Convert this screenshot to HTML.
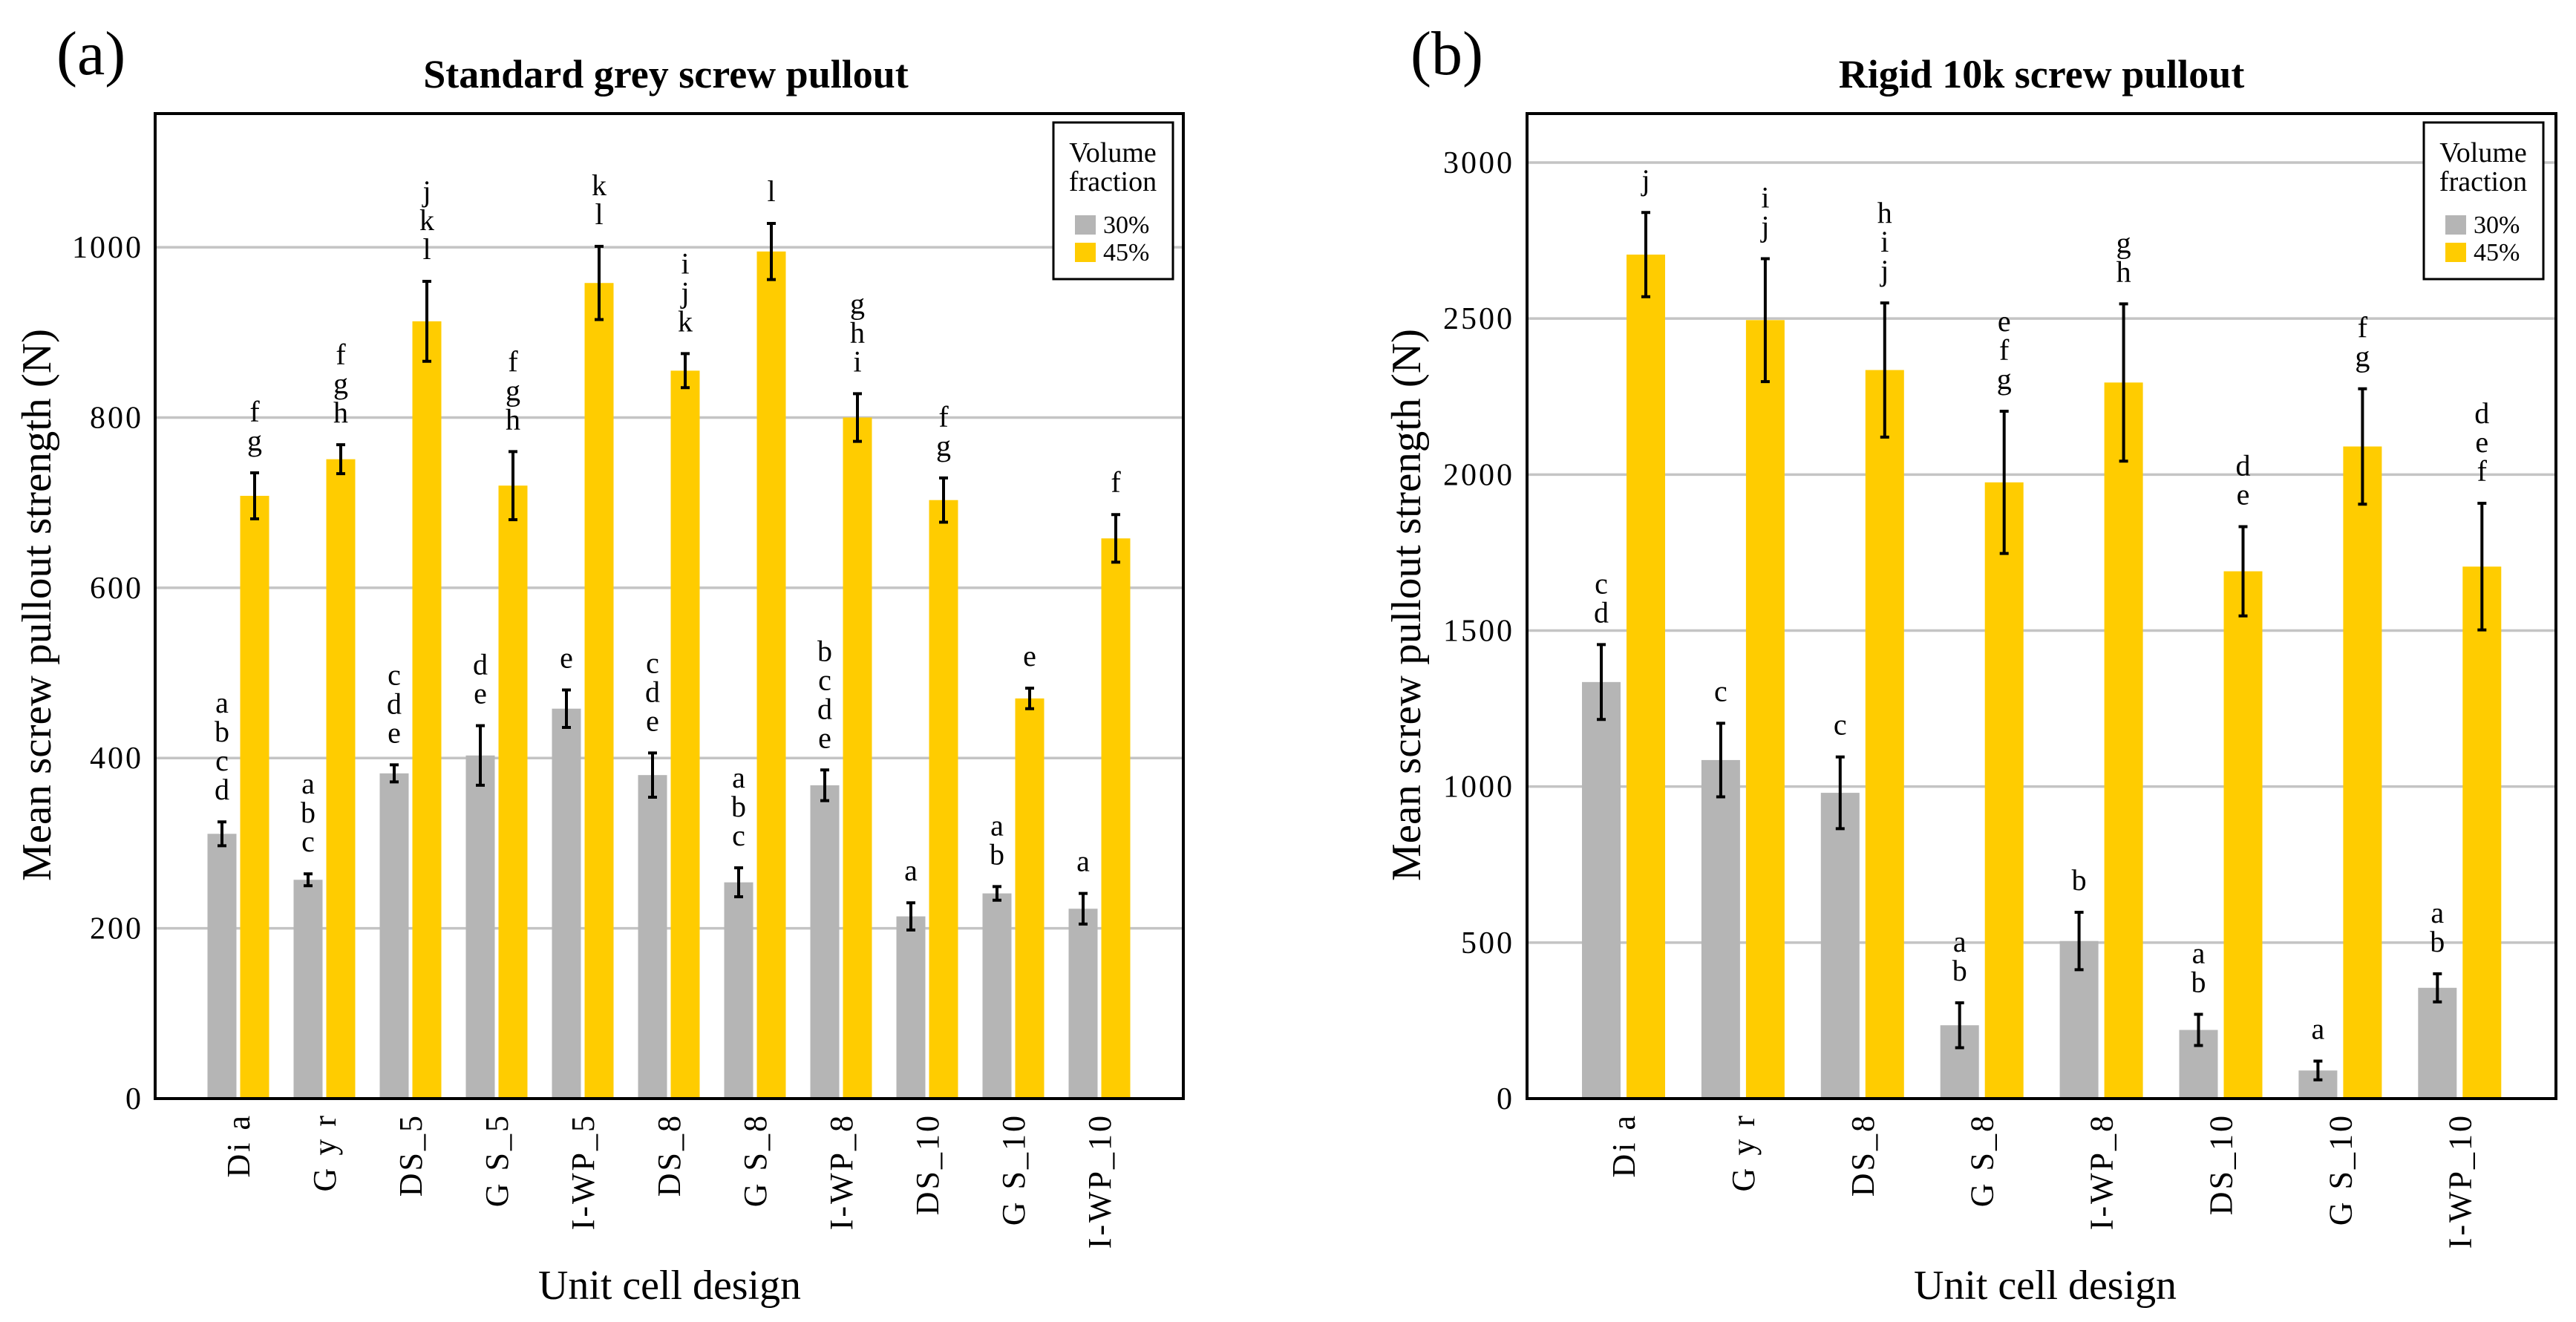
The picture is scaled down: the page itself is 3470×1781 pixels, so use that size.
<!DOCTYPE html>
<html><head><meta charset="utf-8"><style>
html,body{margin:0;padding:0;background:#fff;}
svg{display:block;font-family:"Liberation Serif",serif;}
</style></head><body>
<svg id="fig" width="3470" height="1781" viewBox="0 0 3470 1781" xmlns="http://www.w3.org/2000/svg"></svg>
<script>
// Panel (a) data
const catsA = ["Di a","G y r","DS_5","G S_5","I-WP_5","DS_8","G S_8","I-WP_8","DS_10","G S_10","I-WP_10"];
const a30 = [311,257,382,403,458,380,254,368,214,241,223];
const a30err = [14,7,10,35,22,26,17,18,16,8,18];
const a45 = [708,751,913,720,958,855,995,800,703,470,658];
const a45err = [27,17,47,40,43,20,33,28,26,12,28];
const a30let = [["a","b","c","d"],["a","b","c"],["c","d","e"],["d","e"],["e"],["c","d","e"],["a","b","c"],["b","c","d","e"],["a"],["a","b"],["a"]];
const a45let = [["f","g"],["f","g","h"],["j","k","l"],["f","g","h"],["k","l"],["i","j","k"],["l"],["g","h","i"],["f","g"],["e"],["f"]];
const ticksA = [0,200,400,600,800,1000];
// Panel (b) data
const catsB = ["Di a","G y r","DS_8","G S_8","I-WP_8","DS_10","G S_10","I-WP_10"];
const b30 = [1335,1085,980,235,505,220,90,355];
const b30err = [120,118,115,72,92,50,30,45];
const b45 = [2705,2495,2335,1975,2295,1690,2090,1705];
const b45err = [135,197,215,228,252,143,185,203];
const b30let = [["c","d"],["c"],["c"],["a","b"],["b"],["a","b"],["a"],["a","b"]];
const b45let = [["j"],["i","j"],["h","i","j"],["e","f","g"],["g","h"],["d","e"],["f","g"],["d","e","f"]];
const ticksB = [0,500,1000,1500,2000,2500,3000];

const NS="http://www.w3.org/2000/svg";
const svg=document.getElementById('fig');
function mk(tag,attrs,parent,text){const e=document.createElementNS(NS,tag);for(const k in attrs)e.setAttribute(k,attrs[k]);if(text!==undefined)e.textContent=text;(parent||svg).appendChild(e);return e;}

function panel(o){
  const g=mk('g',{});
  
  
  const L=o.L,R=o.R,T=153,B=1480;
  const yS=v=>B-(v/o.max)*(B-T);
  const xC=i=>o.c0+o.step*i;
  o.ticks.forEach(t=>{
    if(t>0){const gl=mk('line',{x1:L,x2:R,y1:yS(t),y2:yS(t),stroke:'#c4c4c4','stroke-width':3.5},g);
      
      }
    const tl=mk('text',{x:o.tickX,y:yS(t)+14,'text-anchor':'end','font-size':42,'letter-spacing':3,fill:'#000'},g,String(t));
    
    
  });
  function bars(vals,errs,lets,off,color,series){
    vals.forEach((v,i)=>{
      const cx=xC(i)+off;
      const r=mk('rect',{x:cx-o.bw/2,y:yS(v),width:o.bw,height:B-yS(v),fill:color},g);
      
      
      const top=yS(v+errs[i]),bot=yS(v-errs[i]);
      const eb=mk('path',{d:`M${cx},${top}V${bot}M${cx-6},${top}H${cx+6}M${cx-6},${bot}H${cx+6}`,stroke:'#000','stroke-width':4,fill:'none'},g);
      
      
      const ls=lets[i];
      ls.forEach((l,k)=>{
        const t=mk('text',{x:cx,y:top-30-(ls.length-1-k)*39,'text-anchor':'middle','font-size':40},g,l);
        
        
      });
    });
  }
  bars(o.v30,o.e30,o.l30,-o.off,'#b5b5b5','30');
  bars(o.v45,o.e45,o.l45,o.off,'#ffcc00','45');
  const fr=mk('rect',{x:L,y:T,width:R-L,height:B-T,fill:'none',stroke:'#000','stroke-width':4},g);
  
  
  o.cats.forEach((c,i)=>{
    const x=xC(i)+15;
    const t=mk('text',{x:x,y:1500,transform:`rotate(-90 ${x} 1500)`,'text-anchor':'end','font-size':44,'letter-spacing':3},g,c);
    
    
  });
  const ti=mk('text',{x:o.titleX,y:118,'text-anchor':'middle','font-size':54,'font-weight':'bold'},g,o.title);
  
  
  const pl=mk('text',{x:o.labX,y:100,'font-size':84},g,o.lab);
  
  
  const yt=mk('text',{x:o.ytX,y:815,transform:`rotate(-90 ${o.ytX} 815)`,'text-anchor':'middle','font-size':56,textLength:744,lengthAdjust:'spacingAndGlyphs'},g,'Mean screw pullout strength (N)');
  
  
  const xt=mk('text',{x:o.titleX+5,y:1750,'text-anchor':'middle','font-size':56,textLength:354,lengthAdjust:'spacingAndGlyphs'},g,'Unit cell design');
  
  
  const lg=mk('g',{},g);
  
  
  const lx=o.legX;
  mk('rect',{x:lx,y:165,width:161,height:211,fill:'#fff',stroke:'#000','stroke-width':3},lg);
  mk('text',{x:lx+80,y:218,'text-anchor':'middle','font-size':38},lg,'Volume');
  mk('text',{x:lx+80,y:257,'text-anchor':'middle','font-size':38},lg,'fraction');
  const s1=mk('rect',{x:lx+29,y:290,width:28,height:26,fill:'#b5b5b5'},lg);
  
  
  const s2=mk('rect',{x:lx+29,y:327,width:28,height:26,fill:'#ffcc00'},lg);
  
  
  mk('text',{x:lx+67,y:314,'font-size':34},lg,'30%');
  mk('text',{x:lx+67,y:351,'font-size':34},lg,'45%');
}

panel({name:'panel-a',L:209,R:1594,max:1157,ticks:ticksA,tickX:193,c0:321,step:116,bw:39,off:22,
  v30:a30,e30:a30err,l30:a30let,v45:a45,e45:a45err,l45:a45let,cats:catsA,
  title:'Standard grey screw pullout',titleX:897,lab:'(a)',labX:76,ytX:68,legX:1419});
panel({name:'panel-b',L:2057,R:3443,max:3157,ticks:ticksB,tickX:2040,c0:2187,step:160.9,bw:52,off:30,
  v30:b30,e30:b30err,l30:b30let,v45:b45,e45:b45err,l45:b45let,cats:catsB,
  title:'Rigid 10k screw pullout',titleX:2750,lab:'(b)',labX:1900,ytX:1913,legX:3265});
</script>
</body></html>
